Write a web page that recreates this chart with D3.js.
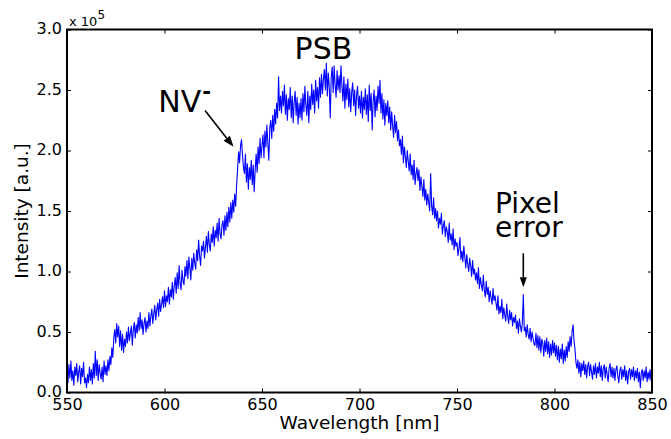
<!DOCTYPE html>
<html>
<head>
<meta charset="utf-8">
<script src="https://cdn.jsdelivr.net/npm/d3@7"></script>
<style>
  html, body { margin: 0; padding: 0; background: #fff; }
  svg { display: block; font-family: "DejaVu Sans", sans-serif; }
</style>
</head>
<body>
<svg id="chart" width="671" height="439"></svg>
<script>
// Photoluminescence spectrum of an NV centre, sampled every 0.5 nm.
const wavelengthStart = 550;
const wavelengthStep = 0.5;
// Intensity in units of 1e5 counts, 550.0 nm .. 850.0 nm
const intensity = [
  0.19, 0.08, 0.23, 0.12, 0.26, 0.10, 0.18, 0.06, 0.21, 0.14,
  0.24, 0.09, 0.17, 0.22, 0.07, 0.20, 0.13, 0.25, 0.08, 0.12,
  0.04, 0.15, 0.08, 0.21, 0.10, 0.19, 0.07, 0.24, 0.12, 0.34,
  0.14, 0.27, 0.10, 0.23, 0.16, 0.11, 0.21, 0.09, 0.26, 0.15,
  0.22, 0.14, 0.27, 0.18, 0.30, 0.23, 0.37, 0.29, 0.45, 0.52,
  0.41, 0.57, 0.46, 0.55, 0.38, 0.51, 0.35, 0.48, 0.33, 0.44,
  0.38, 0.50, 0.41, 0.54, 0.43, 0.49, 0.55, 0.39, 0.52, 0.58,
  0.45, 0.56, 0.49, 0.62, 0.51, 0.66, 0.53, 0.60, 0.48, 0.57,
  0.62, 0.50, 0.59, 0.53, 0.66, 0.55, 0.63, 0.69, 0.57, 0.65,
  0.72, 0.60, 0.68, 0.74, 0.63, 0.77, 0.67, 0.73, 0.79, 0.70,
  0.84, 0.71, 0.80, 0.75, 0.87, 0.73, 0.85, 0.79, 0.91, 0.77,
  0.88, 0.95, 0.82, 0.99, 0.86, 1.05, 0.90, 0.85, 1.01, 0.92,
  0.89, 1.04, 0.96, 1.09, 0.94, 1.12, 1.03, 0.93, 1.11, 1.01,
  1.15, 1.07, 1.02, 1.18, 1.09, 1.26, 1.13, 1.05, 1.21, 1.17,
  1.25, 1.11, 1.20, 1.29, 1.16, 1.33, 1.22, 1.17, 1.31, 1.24,
  1.37, 1.21, 1.34, 1.28, 1.40, 1.25, 1.44, 1.31, 1.27, 1.39,
  1.42, 1.30, 1.46, 1.34, 1.49, 1.37, 1.53, 1.41, 1.57, 1.44,
  1.59, 1.49, 1.64, 1.54, 1.72, 1.85, 1.99, 1.90, 2.04, 2.09,
  1.96, 1.86, 1.81, 1.97, 1.74, 1.89, 1.68, 1.86, 1.76, 1.92,
  1.72, 1.88, 1.66, 1.84, 1.97, 1.82, 2.03, 1.89, 2.10, 1.94,
  2.04, 2.13, 1.94, 2.16, 2.03, 2.21, 2.06, 1.92, 2.19, 2.25,
  2.10, 2.29, 2.16, 2.34, 2.22, 2.39, 2.27, 2.61, 2.33, 2.45,
  2.31, 2.49, 2.37, 2.54, 2.30, 2.46, 2.25, 2.43, 2.34, 2.52,
  2.27, 2.45, 2.23, 2.40, 2.49, 2.29, 2.44, 2.22, 2.39, 2.27,
  2.43, 2.25, 2.47, 2.32, 2.53, 2.37, 2.29, 2.49, 2.23, 2.45,
  2.34, 2.55, 2.38, 2.50, 2.31, 2.58, 2.41, 2.52, 2.35, 2.60,
  2.44, 2.63, 2.47, 2.59, 2.67, 2.50, 2.72, 2.45, 2.64, 2.52,
  2.27, 2.61, 2.69, 2.48, 2.70, 2.54, 2.44, 2.66, 2.50, 2.62,
  2.48, 2.70, 2.53, 2.41, 2.61, 2.35, 2.55, 2.42, 2.59, 2.36,
  2.51, 2.32, 2.48, 2.56, 2.37, 2.50, 2.29, 2.46, 2.53, 2.35,
  2.45, 2.31, 2.49, 2.27, 2.44, 2.34, 2.51, 2.30, 2.46, 2.24,
  2.54, 2.33, 2.47, 2.17, 2.41, 2.50, 2.28, 2.45, 2.33, 2.53,
  2.39, 2.58, 2.31, 2.47, 2.26, 2.42, 2.21, 2.39, 2.29, 2.41,
  2.23, 2.36, 2.17, 2.32, 2.20, 2.11, 2.29, 2.15, 2.24, 2.08,
  2.17, 2.04, 2.09, 1.97, 2.12, 1.90, 2.03, 1.95, 1.86, 2.00,
  1.91, 1.83, 1.97, 1.80, 1.88, 1.76, 1.92, 1.72, 1.81, 1.86,
  1.75, 1.84, 1.67, 1.78, 1.70, 1.62, 1.76, 1.59, 1.68, 1.55,
  1.64, 1.57, 1.50, 1.81, 1.54, 1.47, 1.61, 1.44, 1.52, 1.42,
  1.50, 1.36, 1.44, 1.39, 1.48, 1.31, 1.38, 1.42, 1.29, 1.37,
  1.33, 1.24, 1.40, 1.26, 1.31, 1.22, 1.35, 1.18, 1.27, 1.21,
  1.24, 1.13, 1.19, 1.28, 1.10, 1.17, 1.08, 1.21, 1.12, 1.03,
  1.14, 1.06, 1.00, 1.11, 1.05, 0.96, 1.09, 0.98, 1.02, 0.93,
  0.99, 0.90, 1.03, 0.86, 0.95, 0.89, 0.84, 0.97, 0.85, 0.79,
  0.92, 0.81, 0.87, 0.75, 0.84, 0.78, 0.73, 0.86, 0.76, 0.80,
  0.74, 0.68, 0.80, 0.65, 0.71, 0.66, 0.77, 0.61, 0.70, 0.64,
  0.59, 0.73, 0.63, 0.57, 0.68, 0.60, 0.66, 0.55, 0.62, 0.58,
  0.64, 0.53, 0.59, 0.49, 0.61, 0.55, 0.50, 0.57, 0.81, 0.51,
  0.54, 0.46, 0.56, 0.48, 0.44, 0.53, 0.42, 0.50, 0.45, 0.40,
  0.39, 0.49, 0.37, 0.47, 0.35, 0.46, 0.33, 0.44, 0.41, 0.30,
  0.43, 0.34, 0.45, 0.32, 0.42, 0.29, 0.40, 0.31, 0.43, 0.33,
  0.41, 0.30, 0.39, 0.27, 0.38, 0.25, 0.36, 0.28, 0.40, 0.24,
  0.35, 0.26, 0.38, 0.29, 0.42, 0.34, 0.46, 0.38, 0.50, 0.56,
  0.43, 0.36, 0.25, 0.20, 0.27, 0.16, 0.25, 0.13, 0.24, 0.18,
  0.26, 0.15, 0.23, 0.12, 0.22, 0.25, 0.14, 0.23, 0.17, 0.11,
  0.22, 0.15, 0.24, 0.12, 0.21, 0.16, 0.25, 0.13, 0.22, 0.10,
  0.20, 0.23, 0.12, 0.21, 0.15, 0.09, 0.20, 0.24, 0.13, 0.21,
  0.12, 0.20, 0.10, 0.19, 0.22, 0.13, 0.08, 0.18, 0.21, 0.11,
  0.19, 0.13, 0.22, 0.10, 0.18, 0.07, 0.17, 0.20, 0.11, 0.19,
  0.13, 0.21, 0.10, 0.18, 0.12, 0.20, 0.09, 0.17, 0.04, 0.16,
  0.19, 0.10, 0.18, 0.12, 0.21, 0.09, 0.17, 0.11, 0.19, 0.10,
  0.20
];

const xTicks = [550, 600, 650, 700, 750, 800, 850];
const yTicks = [0.0, 0.5, 1.0, 1.5, 2.0, 2.5, 3.0];
const xDomain = [550, 850];
const yDomain = [0, 3];

// Annotations, anchored in data coordinates (nm, 1e5 counts)
const peakLabel = { text: "PSB", wl: 681.5, v: 2.76 };
const nvLabel = { text: "NV", sup: "-", wl: 596.8, v: 2.32 };
const nvArrow = { from: [620.8, 2.33], to: [635.4, 2.03] };
const pixelLabel = { lines: ["Pixel", "error"], wl: 769.5, v: [1.48, 1.285] };
const pixelArrow = { from: [784.0, 1.15], to: [784.0, 0.87] };

const margin = { left: 67, right: 19, top: 29.5, bottom: 46.5 };
const W = 671, H = 439;

const svg = d3.select("#chart");

const x = d3.scaleLinear().domain(xDomain).range([margin.left, W - margin.right]);
const y = d3.scaleLinear().domain(yDomain).range([H - margin.bottom, margin.top]);

const series = intensity.map((v, i) => ({ wl: wavelengthStart + i * wavelengthStep, v }));

// Clip path for the plotting area
svg.append("defs").append("clipPath").attr("id", "plotArea")
  .append("rect")
  .attr("x", x(xDomain[0])).attr("y", y(yDomain[1]))
  .attr("width", x(xDomain[1]) - x(xDomain[0]))
  .attr("height", y(yDomain[0]) - y(yDomain[1]));

// Spectrum line
const line = d3.line().x(d => x(d.wl)).y(d => y(d.v));
svg.append("path")
  .datum(series)
  .attr("clip-path", "url(#plotArea)")
  .attr("fill", "none")
  .attr("stroke", "#0000ff")
  .attr("stroke-width", 1.1)
  .attr("stroke-linejoin", "round")
  .attr("d", line);

// Axes with inward ticks on all four sides
const tickLen = 4;
function styleAxis(g) {
  g.select(".domain").remove();
  g.selectAll(".tick line").attr("stroke", "#000").attr("stroke-width", 1);
  g.selectAll(".tick text").attr("fill", "#000").attr("font-size", 16)
    .attr("font-family", "DejaVu Sans, sans-serif");
}

svg.append("g")
  .attr("transform", `translate(0,${y(yDomain[0])})`)
  .call(d3.axisBottom(x).tickValues(xTicks).tickFormat(d3.format("d"))
    .tickSize(-tickLen).tickPadding(6))
  .call(styleAxis);

svg.append("g")
  .attr("transform", `translate(0,${y(yDomain[1])})`)
  .call(d3.axisTop(x).tickValues(xTicks).tickFormat("").tickSize(-tickLen))
  .call(styleAxis);

svg.append("g")
  .attr("transform", `translate(${x(xDomain[0])},0)`)
  .call(d3.axisLeft(y).tickValues(yTicks).tickFormat(d3.format(".1f"))
    .tickSize(-tickLen).tickPadding(5))
  .call(styleAxis)
  .call(g => g.selectAll(".tick text").attr("dy", "0.28em"));

svg.append("g")
  .attr("transform", `translate(${x(xDomain[1])},0)`)
  .call(d3.axisRight(y).tickValues(yTicks).tickFormat("").tickSize(-tickLen))
  .call(styleAxis);

// Frame
svg.append("rect")
  .attr("x", x(xDomain[0])).attr("y", y(yDomain[1]))
  .attr("width", x(xDomain[1]) - x(xDomain[0]))
  .attr("height", y(yDomain[0]) - y(yDomain[1]))
  .attr("fill", "none").attr("stroke", "#000").attr("stroke-width", 2);

// Axis titles
svg.append("text")
  .attr("x", (x(xDomain[0]) + x(xDomain[1])) / 2)
  .attr("y", 429)
  .attr("text-anchor", "middle")
  .attr("font-size", 18.5)
  .attr("fill", "#000")
  .text("Wavelength [nm]");

svg.append("text")
  .attr("transform", `translate(28,${(y(yDomain[0]) + y(yDomain[1])) / 2}) rotate(-90)`)
  .attr("text-anchor", "middle")
  .attr("font-size", 18.5)
  .attr("fill", "#000")
  .text("Intensity [a.u.]");

// Offset text for the intensity axis
const offset = svg.append("text")
  .attr("x", x(xDomain[0]) + 2)
  .attr("y", 26)
  .attr("font-size", 13)
  .attr("fill", "#000");
offset.append("tspan").text("x 10");
offset.append("tspan").attr("dy", -7.5).attr("font-size", 12).text("5");

// Annotations
svg.append("text")
  .attr("x", x(peakLabel.wl)).attr("y", y(peakLabel.v))
  .attr("text-anchor", "middle")
  .attr("font-size", 30)
  .attr("fill", "#000")
  .text(peakLabel.text);

const nv = svg.append("text")
  .attr("x", x(nvLabel.wl)).attr("y", y(nvLabel.v))
  .attr("font-size", 30)
  .attr("fill", "#000");
nv.append("tspan").text(nvLabel.text);
nv.append("tspan").attr("dx", 1).attr("dy", -13).attr("font-size", 21)
  .attr("font-weight", "bold").text(nvLabel.sup);

const pixelText = svg.append("text")
  .attr("font-size", 28)
  .attr("fill", "#000");
pixelLabel.lines.forEach((t, i) => {
  pixelText.append("tspan")
    .attr("x", x(pixelLabel.wl)).attr("y", y(pixelLabel.v[i]))
    .text(t);
});

function arrow(a, headLen, headWidth) {
  const x0 = x(a.from[0]), y0 = y(a.from[1]);
  const x1 = x(a.to[0]), y1 = y(a.to[1]);
  const dx = x1 - x0, dy = y1 - y0;
  const len = Math.hypot(dx, dy);
  const ux = dx / len, uy = dy / len;
  const bx = x1 - ux * headLen, by = y1 - uy * headLen;
  svg.append("line")
    .attr("x1", x0).attr("y1", y0).attr("x2", bx).attr("y2", by)
    .attr("stroke", "#000").attr("stroke-width", 1.6);
  const px = -uy * headWidth / 2, py = ux * headWidth / 2;
  svg.append("path")
    .attr("d", `M${x1},${y1}L${bx + px},${by + py}L${bx - px},${by - py}Z`)
    .attr("fill", "#000");
}
arrow(nvArrow, 11, 8);
arrow(pixelArrow, 10, 7);
</script>
</body>
</html>
